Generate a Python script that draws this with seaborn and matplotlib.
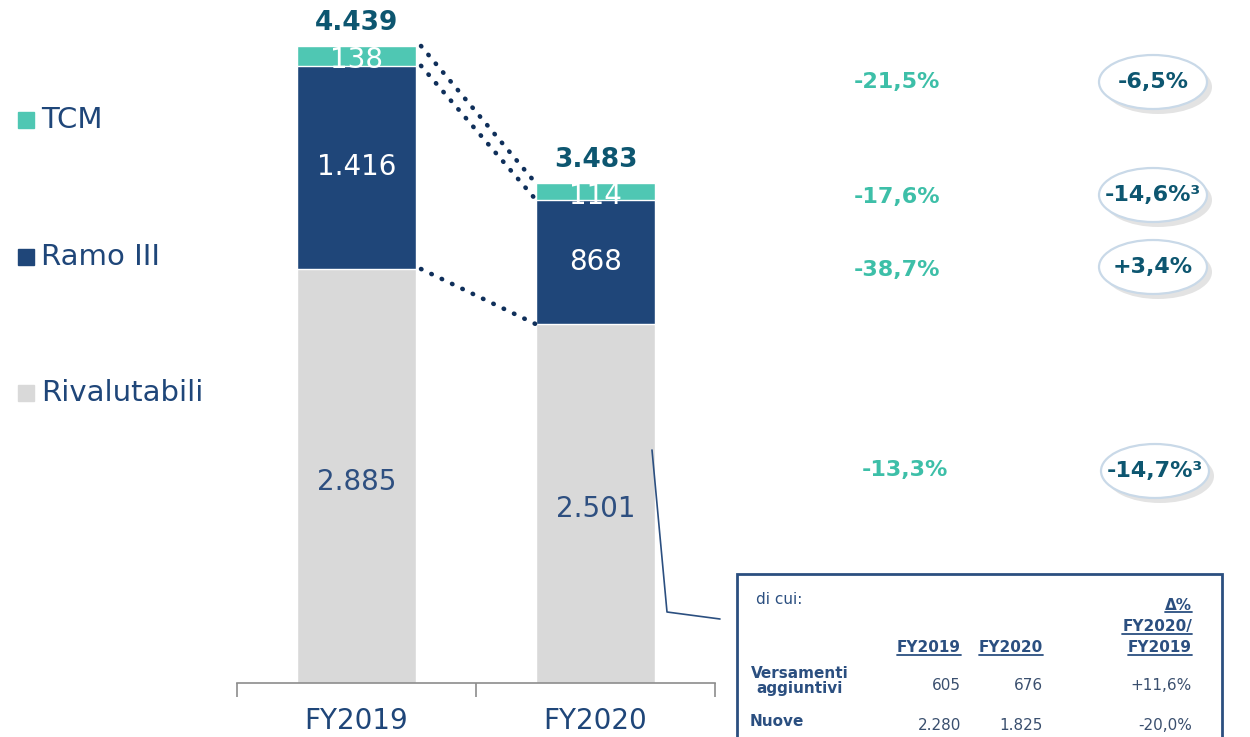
import numpy as np
import pandas as pd
import matplotlib
matplotlib.use("Agg")
import matplotlib.pyplot as plt
from matplotlib.patches import Ellipse, Rectangle
import seaborn as sns

# data
years = ["FY2019", "FY2020"]
rivalutabili = [2885, 2501]
ramo_iii = [1416, 868]
tcm = [138, 114]
totals = ["4.439", "3.483"]
seg_labels = {"Rivalutabili": ["2.885", "2.501"],
              "Ramo III": ["1.416", "868"],
              "TCM": ["138", "114"]}
delta_green = ["-21,5%", "-17,6%", "-38,7%", "-13,3%"]
delta_pill = ["-6,5%", "-14,6%³", "+3,4%", "-14,7%³"]
tab_cols = ["FY2019", "FY2020"]
tab_rows = ["Versamenti\naggiuntivi", "Nuove"]
tab_2019 = ["605", "2.280"]
tab_2020 = ["676", "1.825"]
tab_delta = ["+11,6%", "-20,0%"]

TEAL = "#4fc7b3"
NAVY = "#1f4679"
GREY = "#d9d9d9"
TXT_NAVY = "#1f4679"
DARK_TEAL = "#0d5670"
GREEN_TXT = "#3dbfa8"
DOTS = "#0f2f5a"

sns.set_style("white")
plt.rcParams["font.family"] = ["DejaVu Sans"]

df = pd.DataFrame({"anno": years,
                   "riv": rivalutabili,
                   "ramo": np.add(rivalutabili, ramo_iii),
                   "tot": np.add(np.add(rivalutabili, ramo_iii), tcm)})

fig = plt.figure(figsize=(12.5, 7.37), dpi=100)
ax = fig.add_axes([237 / 1250, 54 / 737, 478 / 1250, 683 / 737])

# stacked bars drawn as overlapping cumulative bars
sns.barplot(data=df, x="anno", y="tot", color=TEAL, width=0.5, saturation=1, ax=ax)
sns.barplot(data=df, x="anno", y="ramo", color=NAVY, width=0.5, saturation=1, ax=ax)
sns.barplot(data=df, x="anno", y="riv", color=GREY, width=0.5, saturation=1, ax=ax)

ax.set_xlim(-0.5, 1.5)
ax.set_ylim(0, 683 / 0.1435)
ax.set_xlabel("")
ax.set_ylabel("")
ax.set_yticks([])
for s in ["top", "right", "left"]:
    ax.spines[s].set_visible(False)
ax.spines["bottom"].set_color("#8c8c8c")
ax.spines["bottom"].set_linewidth(1.2)
ax.set_xticks([0, 1])
ax.set_xticklabels(years, fontsize=20, color=TXT_NAVY)
ax.tick_params(axis="x", which="major", length=0, pad=17)
ax.set_xticks([-0.5, 0.5, 1.5], minor=True)
ax.tick_params(axis="x", which="minor", bottom=True, length=10, width=1.2,
               color="#8c8c8c")
ax.patch.set_alpha(0)

# segment labels
for i in range(2):
    r, m, t = rivalutabili[i], ramo_iii[i], tcm[i]
    ax.text(i, r / 2 - 40, seg_labels["Rivalutabili"][i], ha="center", va="center",
            fontsize=20, color="#2e4f80")
    ax.text(i, r + m / 2, seg_labels["Ramo III"][i], ha="center", va="center",
            fontsize=20, color="white")
    ax.text(i, r + m + t / 2 - 30, seg_labels["TCM"][i], ha="center", va="center",
            fontsize=20, color="white")
    ax.text(i, r + m + t + 70, totals[i], ha="center", va="bottom",
            fontsize=19, fontweight="bold", color=DARK_TEAL)

# dotted connectors between bars
tops19 = [rivalutabili[0] + ramo_iii[0] + tcm[0], rivalutabili[0] + ramo_iii[0], rivalutabili[0]]
tops20 = [rivalutabili[1] + ramo_iii[1] + tcm[1], rivalutabili[1] + ramo_iii[1], rivalutabili[1]]
for a, b in zip(tops19, tops20):
    ax.plot([0.27, 0.75], [a, b], linestyle=(0, (0.1, 2.4)), linewidth=3.3,
            color=DOTS, dash_capstyle="round", clip_on=False)

# overlay in pixel coordinates for the annotations
ov = fig.add_axes([0, 0, 1, 1], zorder=5)
ov.set_xlim(0, 1250)
ov.set_ylim(737, 0)
ov.axis("off")
ov.patch.set_alpha(0)

# legend
leg = [("TCM", TEAL, 120), ("Ramo III", NAVY, 257), ("Rivalutabili", GREY, 393)]
for name, col, yy in leg:
    ov.add_patch(Rectangle((18, yy - 8), 16, 16, color=col))
    ov.text(41, yy, name, ha="left", va="center", fontsize=21, color=TXT_NAVY)

# percentage changes
green_pos = [(897, 82), (897, 197), (897, 270), (905, 470)]
pill_pos = [(1153, 82), (1153, 195), (1153, 267), (1155, 471)]
for txt, (x, y) in zip(delta_green, green_pos):
    ov.text(x, y, txt, ha="center", va="center", fontsize=16, fontweight="bold",
            color=GREEN_TXT)
for txt, (x, y) in zip(delta_pill, pill_pos):
    ov.add_patch(Ellipse((x + 5, y + 5), 108, 54, facecolor="#b0b0b0", alpha=0.35,
                         edgecolor="none"))
    ov.add_patch(Ellipse((x, y), 108, 54, facecolor="white", edgecolor="#c9d9e8",
                         linewidth=1.6))
    ov.text(x, y, txt, ha="center", va="center", fontsize=16, fontweight="bold",
            color=DARK_TEAL)

# callout line and table box
ov.plot([652, 667, 720], [450, 612, 619], color="#2b4f80", linewidth=1.2)
ov.add_patch(Rectangle((737, 574), 485, 200, facecolor="white", edgecolor="#2b4f80",
                       linewidth=2))
ov.text(756, 600, "di cui:", ha="left", va="center", fontsize=11, color="#2b4f80")

under = []
under.append(ov.text(1192, 605, "Δ%", ha="right", va="center", fontsize=11,
                     fontweight="bold", color="#2b4f80"))
under.append(ov.text(1192, 627, "FY2020/", ha="right", va="center", fontsize=11,
                     fontweight="bold", color="#2b4f80"))
under.append(ov.text(1192, 648, "FY2019", ha="right", va="center", fontsize=11,
                     fontweight="bold", color="#2b4f80"))
col_x = [961, 1043]
for cx, c in zip(col_x, tab_cols):
    under.append(ov.text(cx, 648, c, ha="right", va="center", fontsize=11,
                         fontweight="bold", color="#2b4f80"))

row_y = [685, 726]
ov.text(800, 681, tab_rows[0], ha="center", va="center", fontsize=11,
        fontweight="bold", color="#2b4f80", linespacing=1.05)
ov.text(750, 721, tab_rows[1], ha="left", va="center", fontsize=11,
        fontweight="bold", color="#2b4f80")
for i, y in enumerate(row_y):
    ov.text(col_x[0], y, tab_2019[i], ha="right", va="center", fontsize=11, color="#3a4f6e")
    ov.text(col_x[1], y, tab_2020[i], ha="right", va="center", fontsize=11, color="#3a4f6e")
    ov.text(1192, y, tab_delta[i], ha="right", va="center", fontsize=11, color="#3a4f6e")

# underline the table headers
fig.canvas.draw()
inv = ov.transData.inverted()
for t in under:
    bb = t.get_window_extent()
    (x0, y0), (x1, y1) = inv.transform([[bb.x0, bb.y0], [bb.x1, bb.y1]])
    ov.plot([x0, x1], [y0 - 1, y0 - 1], color="#2b4f80", linewidth=1.3)

fig.savefig("out.png", dpi=100)
